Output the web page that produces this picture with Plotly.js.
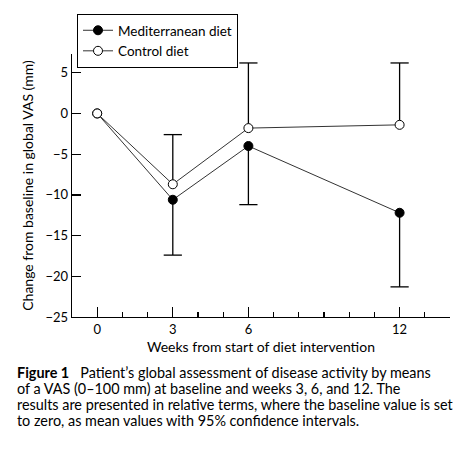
<!DOCTYPE html>
<html>
<head>
<meta charset="utf-8">
<script src="https://cdn.plot.ly/plotly-3.0.1.min.js"></script>
<style>
html,body{margin:0;padding:0;background:#fff;}
#chart{width:464px;height:454px;}
</style>
</head>
<body>
<div id="chart"></div>
<script>
// ---- data ----
const weeks = [0, 3, 6, 12];
const medMean = [0, -10.6, -4.0, -12.2];
const medLower = [null, -17.4, -11.2, -21.3];
const ctrlMean = [0, -8.7, -1.8, -1.4];
const ctrlUpper = [null, -2.6, 6.2, 6.2];
const seriesNames = ["Mediterranean diet", "Control diet"];
const xTickVals = [0, 3, 6, 12];
const yTickVals = [-25, -20, -15, -10, -5, 0, 5];
const xTitle = "Weeks from start of diet intervention";
const yTitle = "Change from baseline in global VAS (mm)";
const captionLines = [
  "<b>Figure 1</b>   Patient\u2019s global assessment of disease activity by means",
  "of a VAS (0\u2013100 mm) at baseline and weeks 3, 6, and 12. The",
  "results are presented in relative terms, where the baseline value is set",
  "to zero, as mean values with 95% confidence intervals."
];

// ---- layout geometry (pixels) ----
const W = 464, H = 454;
const mL = 72, mR = 14, mT = 54, mB = 137;
const plotW = W - mL - mR, plotH = H - mT - mB;
const px2paperX = x => (x - mL) / plotW;
const px2paperY = y => (H - mB - y) / plotH;

const FONT = "Lato, 'DejaVu Sans', sans-serif";

// error-bar traces derived from data
const bX = [], bMed = [], bMedLen = [], bCtrl = [], bCtrlLen = [];
weeks.forEach((w, i) => {
  if (medLower[i] !== null) { bX.push(w); bMed.push(medLower[i]); bMedLen.push(medMean[i] - medLower[i]); }
  if (ctrlUpper[i] !== null) { bCtrl.push(ctrlUpper[i]); bCtrlLen.push(ctrlUpper[i] - ctrlMean[i]); }
});

const capMarker = {symbol: 'line-ew-open', size: 13, color: '#000', line: {color: '#000', width: 1.3}};

const traces = [
  { // Med CI stem + cap
    x: bX, y: bMed, type: 'scatter', mode: 'markers', showlegend: false, hoverinfo: 'skip',
    marker: capMarker,
    error_y: {type: 'data', symmetric: false, array: bMedLen, arrayminus: bMedLen.map(() => 0),
              width: 0, thickness: 1.3, color: '#000'}
  },
  { // Control CI stem + cap
    x: bX, y: bCtrl, type: 'scatter', mode: 'markers', showlegend: false, hoverinfo: 'skip',
    marker: capMarker,
    error_y: {type: 'data', symmetric: false, array: bCtrlLen.map(() => 0), arrayminus: bCtrlLen,
              width: 0, thickness: 1.3, color: '#000'}
  },
  {
    x: weeks, y: medMean, name: seriesNames[0], type: 'scatter', mode: 'lines+markers',
    line: {color: '#333', width: 1},
    marker: {symbol: 'circle', size: 9, color: '#000', line: {color: '#000', width: 1}}
  },
  {
    x: weeks, y: ctrlMean, name: seriesNames[1], type: 'scatter', mode: 'lines+markers',
    line: {color: '#333', width: 1},
    marker: {symbol: 'circle', size: 9, color: '#fff', line: {color: '#000', width: 1}}
  }
];

const annotations = captionLines.map((t, i) => ({
  text: t, xref: 'paper', yref: 'paper', x: px2paperX(15), y: px2paperY(372 + i * 16),
  xanchor: 'left', yanchor: 'middle', showarrow: false, align: 'left',
  font: {family: FONT, size: 14.4, color: '#000'}
}));

const layout = {
  width: W, height: H,
  margin: {l: mL, r: mR, t: mT, b: mB, pad: 0},
  paper_bgcolor: '#fff', plot_bgcolor: '#fff',
  font: {family: FONT, size: 13, color: '#000'},
  showlegend: true,
  legend: {
    x: px2paperX(77), y: px2paperY(14), xanchor: 'left', yanchor: 'top',
    bordercolor: '#000', borderwidth: 1, bgcolor: '#fff',
    font: {family: FONT, size: 13.5, color: '#000'},
    tracegroupgap: 0, itemwidth: 30
  },
  xaxis: {
    range: [-1, 14], showgrid: false, zeroline: false,
    showline: true, linecolor: '#000', linewidth: 1.3, mirror: false,
    tickmode: 'array', tickvals: xTickVals, ticktext: xTickVals.map(String),
    ticks: 'inside', ticklen: 10, tickwidth: 1.3, tickcolor: '#000',
    tickfont: {family: FONT, size: 13},
    minor: {tickmode: 'linear', tick0: 0, dtick: 1, ticks: 'inside', ticklen: 5, tickwidth: 1.2, tickcolor: '#000', showgrid: false},
    title: {text: xTitle, font: {family: FONT, size: 14}, standoff: 6},
    fixedrange: true
  },
  yaxis: {
    range: [-25, 7.3], showgrid: false, zeroline: false,
    showline: true, linecolor: '#000', linewidth: 1.3,
    tickmode: 'array', tickvals: yTickVals,
    ticks: 'inside', ticklen: 9, tickwidth: 1.3, tickcolor: '#000',
    tickfont: {family: FONT, size: 13},
    title: {text: yTitle, font: {family: FONT, size: 14}, standoff: 8},
    fixedrange: true
  },
  annotations: annotations
};

Plotly.newPlot('chart', traces, layout, {staticPlot: true, displayModeBar: false});
</script>
</body>
</html>
